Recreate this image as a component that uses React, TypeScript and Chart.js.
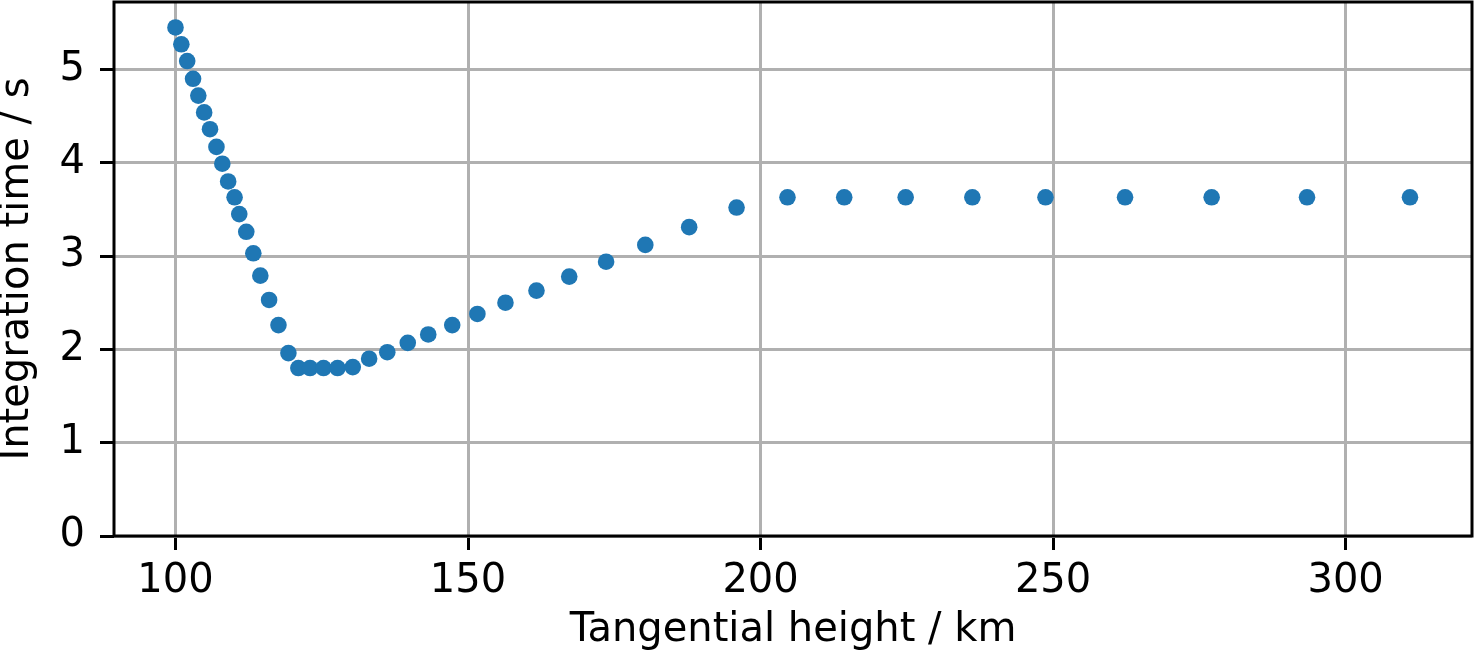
import React, { useEffect, useRef } from "react";
import { Chart, registerables } from "chart.js";

Chart.register(...registerables);

const heights = [
  100.0, 101.0, 102.0, 103.0, 103.9, 104.9, 105.9, 107.0, 108.0, 109.0,
  110.1, 110.9, 112.1, 113.3, 114.5, 116.0, 117.6, 119.3, 121.0, 123.0,
  125.3, 127.7, 130.3, 133.1, 136.2, 139.7, 143.2, 147.3, 151.6, 156.4,
  161.7, 167.3, 173.6, 180.3, 187.8, 195.9, 204.6, 214.3, 224.8, 236.2,
  248.7, 262.3, 277.1, 293.4, 311.0,
];

const times = [
  5.45, 5.27, 5.09, 4.9, 4.72, 4.54, 4.36, 4.17, 3.99, 3.8,
  3.63, 3.45, 3.26, 3.03, 2.79, 2.53, 2.26, 1.96, 1.8, 1.8,
  1.8, 1.8, 1.81, 1.9, 1.97, 2.07, 2.16, 2.26, 2.38, 2.5,
  2.63, 2.78, 2.94, 3.12, 3.31, 3.52, 3.63, 3.63, 3.63, 3.63,
  3.63, 3.63, 3.63, 3.63, 3.63,
];

const xTicks = [100, 150, 200, 250, 300];
const yTicks = [0, 1, 2, 3, 4, 5];

const xTitle = "Tangential height / km";
const yTitle = "Integration time / s";

const FONT = "'DejaVu Sans', sans-serif";

const framePlugin = {
  id: "frame",
  afterDraw(chart: any) {
    const { ctx, chartArea } = chart;
    ctx.save();
    ctx.strokeStyle = "#000";
    ctx.lineWidth = 3;
    ctx.strokeRect(
      chartArea.left,
      chartArea.top,
      chartArea.right - chartArea.left,
      chartArea.bottom - chartArea.top
    );
    ctx.restore();
  },
};

function zeroPad(scale: any) {
  scale.paddingTop = 0;
  scale.paddingBottom = 0;
  scale.paddingLeft = 0;
  scale.paddingRight = 0;
}

export default function App() {
  const ref = useRef<HTMLCanvasElement>(null);

  useEffect(() => {
    document.body.style.margin = "0";
    const canvas = ref.current!;
    const chart = new Chart(canvas, {
      type: "scatter",
      data: {
        datasets: [
          {
            data: heights.map((h, i) => ({ x: h, y: times[i] })),
            backgroundColor: "#1f77b4",
            borderWidth: 0,
            pointRadius: 8.3,
            pointHoverRadius: 8.3,
          },
        ],
      },
      options: {
        responsive: false,
        animation: false,
        events: [],
        layout: { autoPadding: false, padding: { top: 2, right: 2, left: 0, bottom: 0 } },
        plugins: {
          legend: { display: false },
          tooltip: { enabled: false },
        },
        scales: {
          x: {
            type: "linear",
            min: 89.49,
            max: 321.6,
            afterFit(scale: any) {
              scale.height = 126;
              zeroPad(scale);
            },
            afterBuildTicks(scale: any) {
              scale.ticks = xTicks.map((v) => ({ value: v }));
            },
            border: { display: false },
            grid: {
              color: "#b0b0b0",
              lineWidth: 3,
              drawTicks: true,
              tickLength: 14,
              tickColor: "#000",
              tickWidth: 3,
            },
            ticks: {
              color: "#000",
              padding: 8,
              maxRotation: 0,
              autoSkip: false,
              font: { family: FONT, size: 40, lineHeight: 1.2 },
            },
            title: {
              display: true,
              text: xTitle,
              color: "#000",
              padding: { top: 0, bottom: 13 },
              font: { family: FONT, size: 40, lineHeight: 0.9 },
            },
          },
          y: {
            type: "linear",
            min: 0,
            max: 5.723,
            afterFit(scale: any) {
              scale.width = 114;
              zeroPad(scale);
            },
            afterBuildTicks(scale: any) {
              scale.ticks = yTicks.map((v) => ({ value: v }));
            },
            border: { display: false },
            grid: {
              color: "#b0b0b0",
              lineWidth: 3,
              drawTicks: true,
              tickLength: 14,
              tickColor: "#000",
              tickWidth: 3,
            },
            ticks: {
              color: "#000",
              padding: 15,
              autoSkip: false,
              font: { family: FONT, size: 40, lineHeight: 1.2 },
            },
            title: {
              display: true,
              text: yTitle,
              color: "#000",
              padding: { top: 0, bottom: 0 },
              font: { family: FONT, size: 40, lineHeight: 0.9 },
            },
          },
        },
      },
      plugins: [framePlugin],
    });
    return () => chart.destroy();
  }, []);

  return (
    <div style={{ width: 1474, height: 662 }}>
      <canvas ref={ref} width={1474} height={662} style={{ width: 1474, height: 662, display: "block" }} />
    </div>
  );
}
